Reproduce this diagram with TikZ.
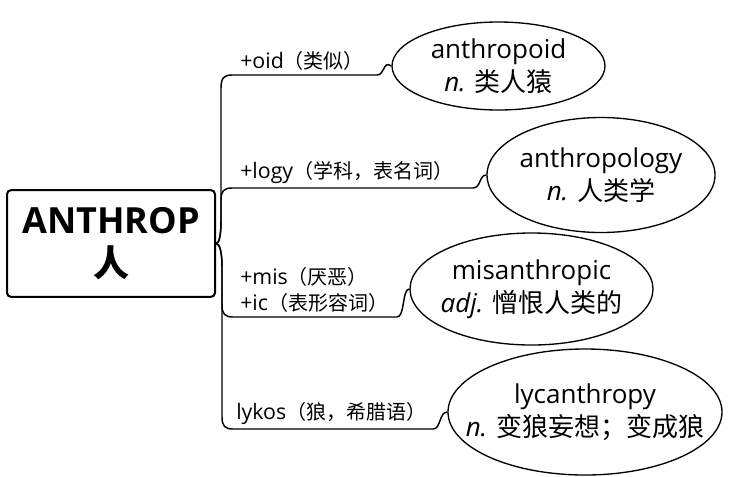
\documentclass[tikz,border=0pt]{standalone}
\usepackage{fontspec}
\setmainfont{Open Sans}
\newfontfamily\cjk{Noto Sans CJK SC}
\usetikzlibrary{shapes.geometric}
\newcommand\zhlbl[1]{{\cjk\fontsize{15}{19.5}\selectfont #1}}
\begin{document}
\begin{tikzpicture}[x=0.75pt,y=-0.75pt,
  word/.style={draw,ellipse,line width=1pt,inner sep=0pt},
  wtxt/.style={inner sep=0pt,align=center,font=\fontsize{19.5}{25}\selectfont},
  lbl/.style={anchor=south west,inner sep=0pt,font=\fontsize{16}{19.5}\selectfont,align=left},
  conn/.style={line width=1.1pt}]
\useasboundingbox (0,0) rectangle (741,476);
\node[draw,line width=1.5pt,rounded corners=3pt,minimum width=156pt,minimum height=80pt,inner sep=0pt,align=center,
  font=\fontsize{27}{30}\selectfont\bfseries] (root) at (111,243.5) {ANTHROP\\[2pt]{\cjk 人}};
\node[word,minimum width=159.75pt,minimum height=66pt] (e1) at (498.5,66) {};
\node[word,minimum width=171pt,minimum height=86.25pt] (e2) at (601,175) {};
\node[word,minimum width=182.25pt,minimum height=84pt] (e3) at (531.5,289) {};
\node[word,minimum width=205.5pt,minimum height=94.5pt] (e4) at (585,412) {};
\node[wtxt] (t1) at (e1) {anthropoid\\\textit{n.} {\cjk 类人猿}};
\node[wtxt] (t2) at (e2) {anthropology\\\textit{n.} {\cjk 人类学}};
\node[wtxt] (t3) at (e3) {misanthropic\\\textit{adj.} {\cjk 憎恨人类的}};
\node[wtxt] (t4) at (e4) {lycanthropy\\\textit{n.} {\cjk 变狼妄想；变成狼}};
% line coordinates
\coordinate (a1) at (377,75);
\coordinate (a2) at (473,188);
\coordinate (a3) at (397,317);
\coordinate (a4) at (433,429);
% labels
\node[lbl] (l1) at (240,71) {+oid\zhlbl{（类似）}};
\node[lbl] (l2) at (240,184) {+logy\zhlbl{（学科，表名词）}};
\node[lbl] (l3) at (240,313) {+mis\zhlbl{（厌恶）}\\+ic\zhlbl{（表形容词）}};
\node[lbl] (l4) at (236,425) {lykos\zhlbl{（狼，希腊语）}};
% connectors
\draw[conn] (root.east) .. controls (220,243) and (221,232) .. (221,220) -- (221,88)
  .. controls (221,78) and (224,75) .. (232,75) -- (a1) .. controls (385,75) and (383,60) .. (e1.west);
\draw[conn] (root.east) .. controls (220,243) and (221,232) .. (221,220) -- (221,200)
  .. controls (221,191) and (224,188) .. (232,188) -- (a2) .. controls (481,188) and (479,175) .. (e2.west);
\draw[conn] (root.east) .. controls (220,243) and (222,254) .. (222,266) -- (222,305)
  .. controls (222,314) and (225,317) .. (233,317) -- (a3) .. controls (405,317) and (402,289) .. (e3.west);
\draw[conn] (root.east) .. controls (220,243) and (222,254) .. (222,266) -- (222,417)
  .. controls (222,426) and (225,429) .. (233,429) -- (a4) .. controls (441,429) and (439,412) .. (e4.west);
\end{tikzpicture}
\end{document}
